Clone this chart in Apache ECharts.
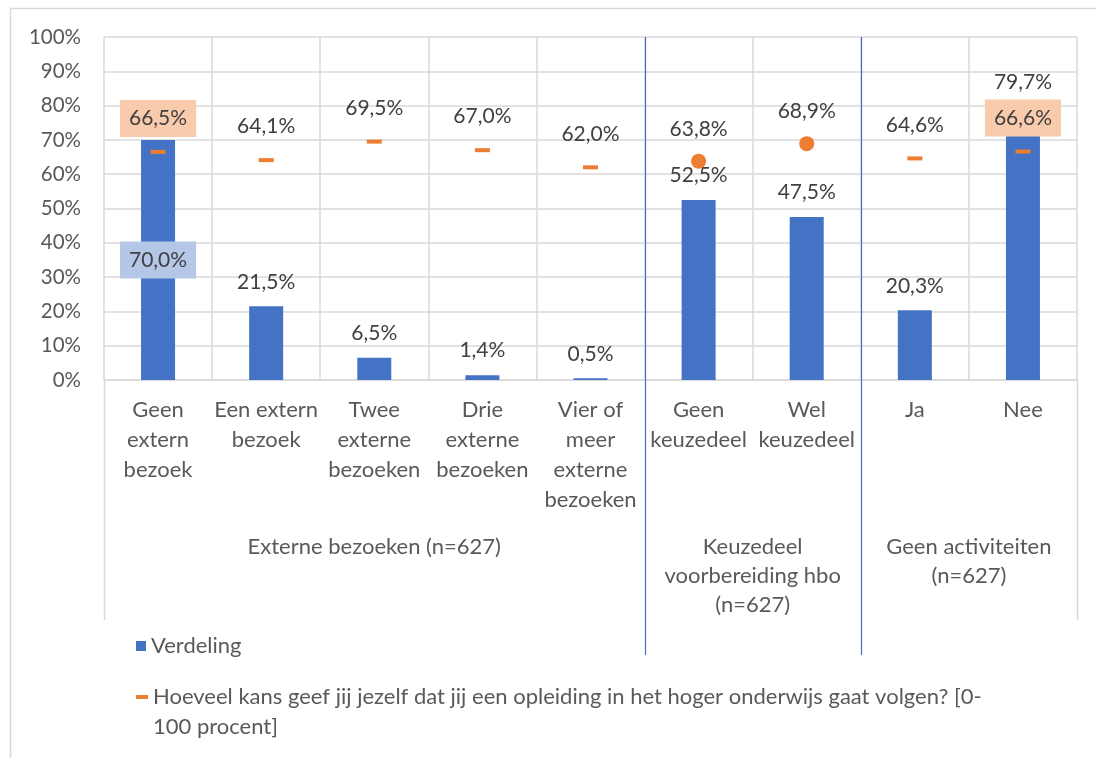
<!DOCTYPE html>
<html><head><meta charset="utf-8">
<script src="https://cdn.jsdelivr.net/npm/echarts@6/dist/echarts.min.js"></script>
<style>html,body{margin:0;padding:0;background:#fff}#c{width:1096px;height:758px}</style>
</head><body><div id="c"></div>
<script>
const categories = ["Geen\nextern\nbezoek", "Een extern\nbezoek", "Twee\nexterne\nbezoeken", "Drie\nexterne\nbezoeken", "Vier of\nmeer\nexterne\nbezoeken", "Geen\nkeuzedeel", "Wel\nkeuzedeel", "Ja", "Nee"];
const groupLabels = ["Externe bezoeken (n=627)", "Keuzedeel\nvoorbereiding hbo\n(n=627)", "Geen activiteiten\n(n=627)"];
const groupSizes = [5, 2, 2];
const verdeling = [70.0, 21.5, 6.5, 1.4, 0.5, 52.5, 47.5, 20.3, 79.7];
const kans = [66.5, 64.1, 69.5, 67.0, 62.0, 63.8, 68.9, 64.6, 66.6];
const kansMarker = ["dash", "dash", "dash", "dash", "dash", "dot", "dot", "dash", "dash"];
const seriesNames = ["Verdeling", "Hoeveel kans geef jij jezelf dat jij een opleiding in het hoger onderwijs gaat volgen? [0-100 procent]"];
const yMin = 0, yMax = 100, yStep = 10;

const FONT = "Lato";
const BLUE = "#4472C4", ORANGE = "#ED7D31", GRID = "#D9D9D9";
const fmt = v => v.toFixed(1).replace(".", ",") + "%";

// group boundaries and centers (in category units)
const bounds = [0];
groupSizes.forEach(s => bounds.push(bounds[bounds.length - 1] + s));
const centers = groupSizes.map((s, i) => bounds[i] + s / 2);

const barData = verdeling.map((v, i) => {
  if (i === 0) return { value: v, label: { position: "inside", backgroundColor: "#B4C7E7", padding: [8, 9] } };
  return v;
});
const kansData = kans.map((v, i) => {
  const dot = kansMarker[i] === "dot";
  const item = { value: v, symbol: dot ? "circle" : "rect", symbolSize: dot ? 15 : [15, 4] };
  if (i === 0 || i === kans.length - 1) {
    item.label = { backgroundColor: "#F8CBAD", padding: [8, 9], distance: 13 };
  } else if (dot) {
    item.label = { distance: 14 };
  }
  return item;
});

const chart = echarts.init(document.getElementById("c"), null, { renderer: "canvas" });
const labelStyle = { fontFamily: FONT, fontSize: 21, color: "#404040", lineHeight: 21 };

chart.setOption({
  animation: false,
  textStyle: { fontFamily: FONT },
  grid: { left: 104, right: 19, top: 37, bottom: 378, containLabel: false },
  xAxis: [
    {
      type: "category", data: categories,
      axisLine: { show: true, lineStyle: { color: GRID, width: 1.5 } },
      axisTick: { show: false },
      splitLine: { show: true, lineStyle: { color: GRID, width: 1.5 } },
      axisLabel: { interval: 0, margin: 15, fontFamily: FONT, fontSize: 22, lineHeight: 30, color: "#595959" }
    },
    {
      type: "value", min: 0, max: categories.length, interval: 0.5, position: "bottom",
      axisLine: { show: false }, axisTick: { show: false }, splitLine: { show: false },
      axisLabel: {
        margin: 152, fontFamily: FONT, fontSize: 22, lineHeight: 29, color: "#595959", align: "center",
        formatter: v => { const k = centers.findIndex(c => Math.abs(c - v) < 1e-6); return k >= 0 ? groupLabels[k] : ""; }
      }
    }
  ],
  yAxis: {
    type: "value", min: yMin, max: yMax, interval: yStep,
    axisLine: { show: false }, axisTick: { show: false },
    splitLine: { lineStyle: { color: GRID, width: 1.5 } },
    axisLabel: { formatter: "{value}%", margin: 23, fontFamily: FONT, fontSize: 20.5, color: "#595959" }
  },
  legend: [
    {
      data: [seriesNames[0]], left: 131, top: 630, itemWidth: 10, itemHeight: 10, icon: "rect",
      textStyle: { fontFamily: FONT, fontSize: 22, color: "#595959" }
    },
    {
      data: [seriesNames[1]], left: 131, top: 647, itemWidth: 12, itemHeight: 4, icon: "rect",
      formatter: n => "\n" + n.replace("[0-", "[0-\n"),
      textStyle: { fontFamily: FONT, fontSize: 22, color: "#595959", lineHeight: 30 }
    }
  ],
  series: [
    {
      name: seriesNames[0], type: "bar", data: barData, barWidth: 34, z: 2,
      itemStyle: { color: BLUE },
      label: Object.assign({ show: true, position: "top", distance: 14, formatter: p => fmt(p.value) }, labelStyle)
    },
    {
      name: seriesNames[1], type: "scatter", data: kansData, z: 5,
      itemStyle: { color: ORANGE, opacity: 1 },
      label: Object.assign({ show: true, position: "top", distance: 21, formatter: p => fmt(p.value) }, labelStyle)
    }
  ]
});

// decorative category-group separators, placed through the axis scales
const xp = v => chart.convertToPixel({ xAxisIndex: 1 }, v);
const yTop = chart.convertToPixel({ yAxisIndex: 0 }, yMax);
const yBot = chart.convertToPixel({ yAxisIndex: 0 }, yMin);
const graphics = [
  { type: "rect", shape: { x: 10.5, y: 8.5, width: 1200, height: 900 }, style: { fill: "none", stroke: GRID, lineWidth: 1.5 }, z: -1 }
];
bounds.forEach((b, i) => {
  const x = Math.round(xp(b)) + 0.5;
  const outer = i === 0 || i === bounds.length - 1;
  graphics.push({
    type: "line",
    shape: { x1: x, y1: outer ? yBot : yTop, x2: x, y2: outer ? 620 : 655 },
    style: { stroke: outer ? GRID : BLUE, lineWidth: outer ? 1.5 : 1.2 }, z: 10
  });
});
chart.setOption({ graphic: graphics });
</script></body></html>
